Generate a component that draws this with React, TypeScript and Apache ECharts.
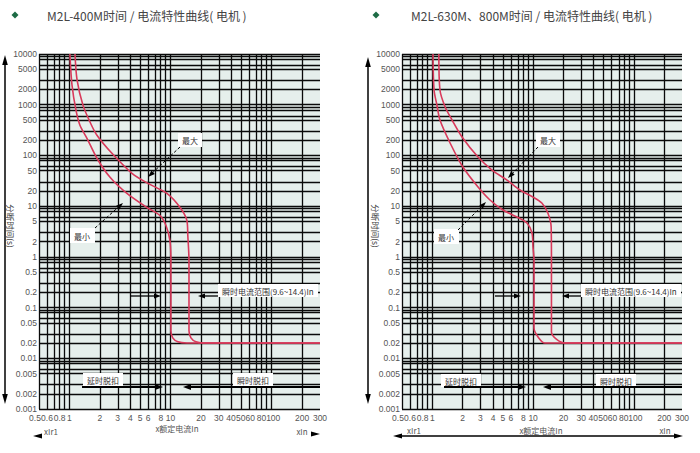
import React, { useEffect, useRef } from 'react';
import * as echarts from 'echarts';

const titles = ['M2L-400M时间 / 电流特性曲线( 电机 )', 'M2L-630M、800M时间 / 电流特性曲线( 电机 )'];
const xLabelValues = [0.5, 0.6, 0.8, 1, 2, 3, 4, 5, 6, 8, 10, 20, 30, 40, 50, 60, 80, 100, 200, 300];
const yLabelValues = [10000, 5000, 2000, 1000, 500, 200, 100, 50, 20, 10, 5, 2, 1, 0.5, 0.2, 0.1, 0.05, 0.02, 0.01, 0.005, 0.002, 0.001];
const xGridValues = [0.5, 0.6, 0.7, 0.8, 0.9, 1, 2, 3, 4, 5, 6, 7, 8, 9, 10, 20, 30, 40, 50, 60, 70, 80, 90, 100, 200, 300];
const yGridMantissas = [1, 2, 3, 5, 6, 8, 9];
const yGridDecades = [0.001, 0.01, 0.1, 1, 10, 100, 1000];
const yTopValue = 10000;
const xMin = 0.5;
const xMax = 300;
const yMin = 0.001;
const yMax = 10000;

// [current x In, time s]
const min400 = [[1.01, 10000], [1.06, 2440], [1.16, 781], [1.27, 394], [1.49, 218], [1.87, 88], [2.52, 37], [3.7, 17.8], [5.84, 9.4], [7.85, 6.55], [9.0, 4.16], [9.85, 2.1], [10.07, 0.84], [10.07, 0.0348], [10.5, 0.0253], [11.8, 0.0211], [14.5, 0.02], [300, 0.02]];
const max400 = [[1.135, 10000], [1.19, 3060], [1.36, 981], [1.6, 452], [1.87, 250], [2.63, 110], [4.15, 44.4], [5.97, 28.1], [9.2, 17.8], [12.4, 9.4], [14.5, 5.2], [14.8, 2.64], [15.2, 0.84], [15.2, 0.0348], [15.9, 0.0253], [17.8, 0.0211], [20.9, 0.02], [300, 0.02]];
const min630 = [[1.015, 10000], [1.04, 1950], [1.11, 986], [1.19, 499], [1.5, 176], [2.01, 59], [2.84, 23.8], [3.73, 13.2], [5.02, 8.4], [6.92, 6.1], [8.69, 4.64], [9.74, 2.95], [9.97, 1.56], [10.2, 0.865], [10.2, 0.0394], [11.2, 0.0262], [13.1, 0.02], [300, 0.02]];
const max630 = [[1.16, 10000], [1.19, 1950], [1.34, 901], [1.57, 499], [1.97, 231], [2.84, 93], [3.91, 51.5], [5.5, 32.7], [7.41, 20.8], [9.97, 15.1], [12.2, 11.5], [14.0, 7.3], [15.1, 3.87], [15.2, 0.865], [15.2, 0.033], [17.0, 0.0239], [20.7, 0.02], [300, 0.02]];

const L = (v: number) => Math.log10(v);
const fmt = (v: number) => String(Number(Math.pow(10, v).toPrecision(3)));

const CJK = '"Noto Sans CJK SC", sans-serif';
const LAT = '"Liberation Sans", Arial, sans-serif';

// small horizontal nudges for crowded log-axis labels (rich style keys)
const labelNudge: Record<string, string> = { '0.5': 'l4', '40': 'l05', '50': 'l05', '60': 'r1', '80': 'l05', '100': 'r15' };

function text(x: number, y: number, s: string, size = 8, fill = '#333', align = 'center', extra: any = {}) {
  return {
    type: 'text', x, y, z: 120, silent: true, ...extra,
    style: { text: s, fill, font: `${size}px ${CJK}`, align, textAlign: align, verticalAlign: 'middle', textVerticalAlign: 'middle' },
  };
}
function box(x: number, y: number, w: number, h: number) {
  return { type: 'rect', z: 110, silent: true, shape: { x, y, width: w, height: h }, style: { fill: '#fff' } };
}
function seg(x1: number, y1: number, x2: number, y2: number, w = 1.5, dash?: number[]) {
  return { type: 'line', z: 115, silent: true, shape: { x1, y1, x2, y2 }, style: { stroke: '#000', lineWidth: w, lineDash: dash } };
}
function head(tx: number, ty: number, fx: number, fy: number, len = 8, hw = 2.5) {
  const dx = tx - fx, dy = ty - fy;
  const n = Math.hypot(dx, dy);
  const ux = dx / n, uy = dy / n;
  const bx = tx - ux * len, by = ty - uy * len;
  return {
    type: 'polygon', z: 116, silent: true,
    shape: { points: [[tx, ty], [bx - uy * hw, by + ux * hw], [bx + uy * hw, by - ux * hw]] },
    style: { fill: '#000' },
  };
}
function arrow(fx: number, fy: number, tx: number, ty: number, w = 1.5, dash?: number[], len = 8, hw = 2.5) {
  const dx = tx - fx, dy = ty - fy;
  const n = Math.hypot(dx, dy);
  return [seg(fx, fy, tx - (dx / n) * len * 0.6, ty - (dy / n) * len * 0.6, w, dash), head(tx, ty, fx, fy, len, hw)];
}
function diamond(cx: number, cy: number, r: number) {
  return { type: 'polygon', z: 120, silent: true, shape: { points: [[cx, cy - r], [cx + r, cy], [cx, cy + r], [cx - r, cy]] }, style: { fill: '#1d6b45' } };
}

export default function App() {
  const ref = useRef<HTMLDivElement>(null);
  useEffect(() => {
    if (!ref.current) return;
    const chart = echarts.init(ref.current, undefined, { renderer: 'svg' });
    const yGridValues = yGridDecades.flatMap((d) => yGridMantissas.map((m) => Number((m * d).toPrecision(3)))).concat([yTopValue]);
    const grids = [
      { left: 39, top: 54, width: 281, height: 355 },
      { left: 402, top: 54, width: 280, height: 355 },
    ];
    const base = { fontSize: 8.5, color: '#555', fontFamily: LAT };
    const rich = {
      l4: { ...base, padding: [0, 8, 0, 0] },
      l05: { ...base, padding: [0, 1, 0, 0] },
      r1: { ...base, padding: [0, 0, 0, 2] },
      r15: { ...base, padding: [0, 0, 0, 3] },
    };
    const xFmt = (v: number) => {
      const s = fmt(v);
      const k = labelNudge[s];
      return k ? `{${k}|${s}}` : s;
    };
    const xAxis = grids.map((_, i) => ({
      type: 'value', gridIndex: i, min: L(xMin), max: L(xMax),
      axisLine: { show: false }, axisTick: { show: false }, splitLine: { show: false },
      axisLabel: { customValues: xLabelValues.map(L), formatter: xFmt, rich, ...base, margin: 4 },
    }));
    const yAxis = grids.map((_, i) => ({
      type: 'value', gridIndex: i, min: L(yMin), max: L(yMax),
      axisLine: { show: false }, axisTick: { show: false }, splitLine: { show: false },
      axisLabel: { customValues: yLabelValues.map(L), formatter: fmt, ...base, margin: 2 },
    }));
    const gridSeries = grids.map((_, i) => ({
      type: 'line', xAxisIndex: i, yAxisIndex: i, data: [], silent: true, z: 1,
      markLine: {
        silent: true, symbol: ['none', 'none'], animation: false, z: 1,
        label: { show: false }, emphasis: { disabled: true },
        lineStyle: { color: '#0a0a0a', width: 1.3, type: 'solid', opacity: 1 },
        data: [...xGridValues.map((v) => ({ xAxis: L(v) })), ...yGridValues.map((v) => ({ yAxis: L(v) }))],
      },
    }));
    const curve = (d: number[][], i: number, name: string) => ({
      type: 'line', name, xAxisIndex: i, yAxisIndex: i, z: 10, silent: true,
      data: d.map(([a, b]) => [L(a), L(b)]), showSymbol: false, symbol: 'none', smooth: 0.3,
      lineStyle: { color: '#d93a5b', width: 1.6 },
    });
    const graphic: any[] = [
      // left chart
      diamond(15, 15, 3.5),
      text(47, 15, titles[0], 12, '#444', 'left'),
      text(11, 226, '分断时间(s)', 8.5, '#444', 'center', { rotation: -Math.PI / 2 }),
      seg(5, 60, 5, 398, 1.5), head(5, 55, 5, 70, 10, 2.8), head(5, 404, 5, 390, 10, 2.8),
      box(178, 133, 24, 14), text(190, 140, '最大'),
      ...arrow(180, 147, 148, 177, 1, [3, 2], 7, 2.5),
      box(70, 228, 25, 15), text(82, 236, '最小'),
      ...arrow(95, 228, 123, 203, 1, [3, 2], 7, 2.5),
      box(218, 284, 100, 13), text(222, 291, '瞬时电流范围(9.6~14.4)In', 8, '#333', 'left'),
      ...arrow(130, 296, 161, 296, 1.3, undefined, 7, 2.5),
      ...arrow(218, 296, 198, 296, 1.3, undefined, 7, 2.5),
      box(83, 373, 40, 13), text(103, 380, '延时脱扣'),
      box(233, 373, 40, 13), text(253, 380, '瞬时脱扣'),
      ...arrow(82, 387, 163, 387, 2, undefined, 8, 3),
      ...arrow(320, 387, 183, 387, 2, undefined, 8, 3),
      text(51, 431, 'xIr1', 8, '#555'), text(177, 428, 'x额定电流In', 8, '#555'), text(302, 431, 'xIn', 8, '#555'),
      head(33, 436, 45, 436, 9, 2.5), head(320, 434, 308, 434, 9, 2.5),
      // right chart
      diamond(376, 15, 3.5),
      text(411, 15, titles[1], 12, '#444', 'left'),
      text(376, 226, '分断时间(s)', 8.5, '#444', 'center', { rotation: -Math.PI / 2 }),
      seg(368, 62, 368, 398, 1.5), head(368, 57, 368, 72, 10, 2.8), head(368, 404, 368, 390, 10, 2.8),
      box(536, 133, 24, 14), text(548, 140, '最大'),
      ...arrow(538, 147, 508, 178, 1, [3, 2], 7, 2.5),
      box(434, 229, 25, 15), text(446, 237, '最小'),
      ...arrow(458, 230, 486, 202, 1, [3, 2], 7, 2.5),
      box(581, 284, 100, 13), text(585, 291, '瞬时电流范围(9.6~14.4)In', 8, '#333', 'left'),
      ...arrow(495, 296, 521, 296, 1.3, undefined, 7, 2.5),
      ...arrow(581, 296, 562, 296, 1.3, undefined, 7, 2.5),
      box(441, 374, 40, 13), text(461, 381, '延时脱扣'),
      box(596, 374, 40, 13), text(616, 381, '瞬时脱扣'),
      ...arrow(444, 387, 526, 387, 2, undefined, 8, 3),
      ...arrow(682, 387, 543, 387, 2, undefined, 8, 3),
      text(414, 430, 'xIr1', 8, '#555'), text(541, 430, 'x额定电流In', 8, '#555'), text(665, 430, 'xIn', 8, '#555'),
      seg(398, 436, 678, 436, 1.5), head(393, 436, 405, 436, 9, 2.5), head(683, 436, 671, 436, 9, 2.5),
    ];
    chart.setOption({
      animation: false,
      backgroundColor: '#fff',
      grid: grids.map((g) => ({ ...g, show: true, backgroundColor: '#e6efec', borderWidth: 0 })),
      xAxis, yAxis,
      series: [...gridSeries, curve(min400, 0, '最小'), curve(max400, 0, '最大'), curve(min630, 1, '最小'), curve(max630, 1, '最大')],
      graphic,
    });
    return () => chart.dispose();
  }, []);
  return <div ref={ref} style={{ position: 'absolute', left: 0, top: 0, width: 700, height: 453 }} />;
}
